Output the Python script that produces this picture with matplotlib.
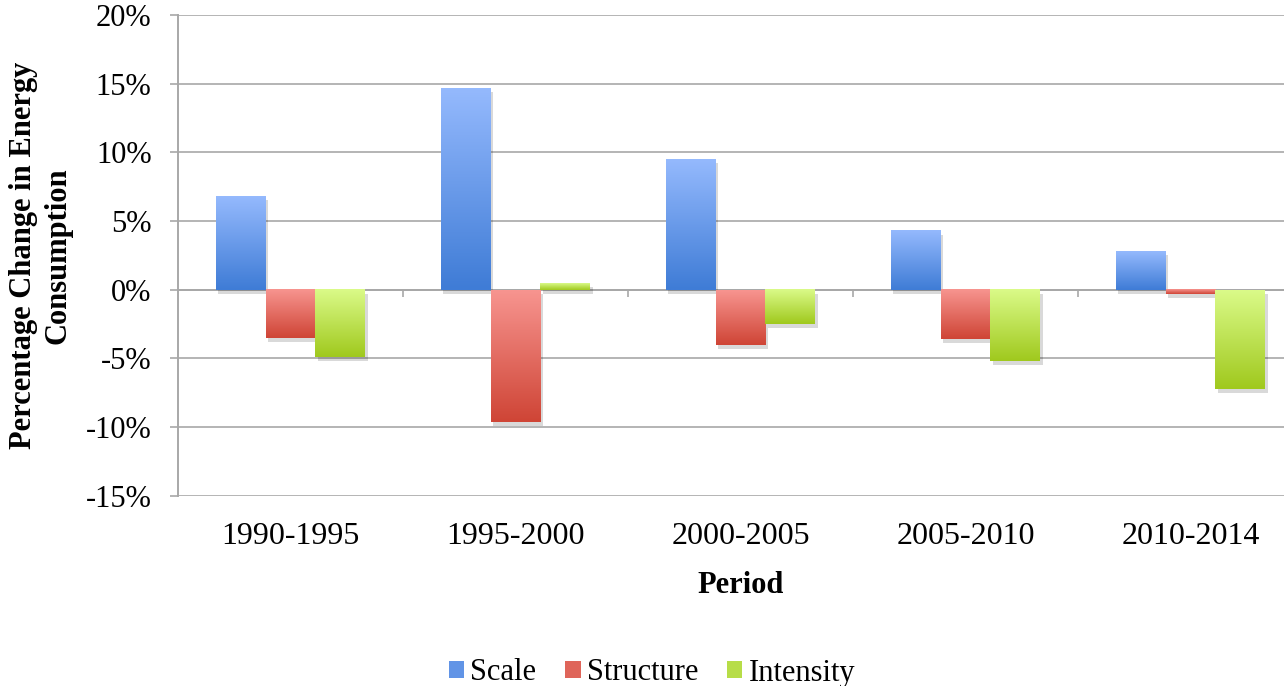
import numpy as np
import matplotlib.pyplot as plt
from matplotlib import patheffects as pe
from matplotlib.colors import LinearSegmentedColormap
from matplotlib.patches import Patch
from matplotlib.ticker import FuncFormatter

periods = ["1990-1995", "1995-2000", "2000-2005", "2005-2010", "2010-2014"]
scale = [6.8, 14.7, 9.5, 4.3, 2.8]
structure = [-3.5, -9.6, -4.0, -3.6, -0.3]
intensity = [-4.9, 0.5, -2.5, -5.2, -7.2]
series = ["Scale", "Structure", "Intensity"]

# light (top) -> dark (bottom) for each series
shades = [("#94b9fd", "#3f7cd6"), ("#f7948f", "#cf4536"), ("#dafa88", "#a0c91e")]

plt.rcParams["font.family"] = ["Liberation Serif", "DejaVu Serif"]

fig = plt.figure(figsize=(12.84, 6.86), dpi=100)
ax = fig.add_axes([178 / 1284, 190.3 / 686, 1125 / 1284, 480.7 / 686])

x = np.arange(len(periods))
w = 0.222
grey = "#a8a8a8"
handles = []

for k, (vals, name, (c0, c1)) in enumerate(zip([scale, structure, intensity], series, shades)):
    bars = ax.bar(x + (k - 1) * w, vals, w, color=c1, zorder=3,
                  path_effects=[pe.SimplePatchShadow(offset=(1.5, -3), shadow_rgbFace="k", alpha=0.15),
                                pe.Normal()])
    cmap = LinearSegmentedColormap.from_list(name, [c0, c1])
    grad = np.linspace(0, 1, 64).reshape(-1, 1)
    for b in bars:
        x0, y0 = b.get_x(), b.get_y()
        x1, y1 = x0 + b.get_width(), y0 + b.get_height()
        ax.imshow(grad, cmap=cmap, aspect="auto", extent=[x0, x1, min(y0, y1), max(y0, y1)],
                  origin="upper", zorder=4, interpolation="bilinear")
    handles.append(Patch(facecolor=cmap(0.6), label=name))

ax.set_xlim(-0.5, len(periods) - 0.5)
ax.set_ylim(-15, 20)
ax.set_yticks(np.arange(-15, 21, 5))
ax.yaxis.set_major_formatter(FuncFormatter(lambda v, p: f"{v:.0f}%"))
ax.grid(axis="y", color=grey, lw=1.2, zorder=1)
ax.axhline(0, color=grey, lw=1.4, zorder=2)
ax.vlines(x[:-1] + 0.5, -0.55, 0, color=grey, lw=1.2, zorder=2)

for s in ["top", "right", "bottom"]:
    ax.spines[s].set_visible(False)
ax.spines["left"].set_color(grey)
ax.spines["left"].set_linewidth(1.4)

ax.set_xticks(x)
ax.set_xticklabels(periods)
ax.tick_params(axis="x", length=0, pad=19, labelsize=23)
ax.tick_params(axis="y", length=6, color=grey, width=1.2, pad=13, labelsize=22)

ax.set_xlabel("Period", fontsize=22, fontweight="bold", labelpad=14)
ax.set_ylabel("Percentage Change in Energy\nConsumption", fontsize=22,
              fontweight="bold", linespacing=1.25)
ax.yaxis.set_label_coords(-0.094, 0.5)

fig.legend(handles=handles, loc="center", bbox_to_anchor=(652 / 1284, 1 - 673 / 686), ncol=3,
           frameon=False, fontsize=22, handlelength=0.5, handleheight=0.5, handletextpad=0.2,
           columnspacing=0.95)

fig.savefig("out.png", dpi=100)
